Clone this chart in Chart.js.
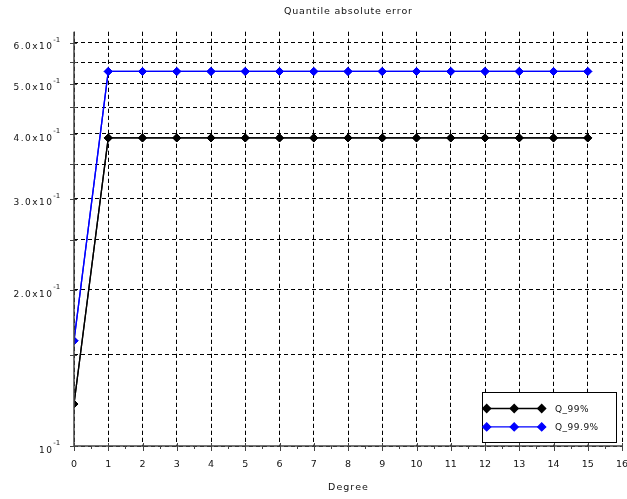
<!DOCTYPE html>
<html>
<head>
<meta charset="utf-8">
<script src="https://cdn.jsdelivr.net/npm/chart.js@4.4.1/dist/chart.umd.min.js"></script>
<style>
  html, body { margin: 0; padding: 0; background: #fff; }
  #wrap { width: 627px; height: 499px; }
</style>
</head>
<body>
<div id="wrap"><canvas id="chart" width="627" height="499"></canvas></div>
<script>
// data
const degrees = [0, 1, 2, 3, 4, 5, 6, 7, 8, 9, 10, 11, 12, 13, 14, 15];
const q99 = [0.1205, 0.393, 0.393, 0.393, 0.393, 0.393, 0.393, 0.393,
             0.393, 0.393, 0.393, 0.393, 0.393, 0.393, 0.393, 0.393];
const q999 = [0.1596, 0.528, 0.528, 0.528, 0.528, 0.528, 0.528, 0.528,
              0.528, 0.528, 0.528, 0.528, 0.528, 0.528, 0.528, 0.528];
const seriesNames = ['Q_99%', 'Q_99.9%'];
const seriesColors = ['#000000', '#0000ff'];

// y axis (log) ticks: majors get a label, minors only grid + tick mark
const yTicks = [0.1, 0.15, 0.2, 0.25, 0.3, 0.35, 0.4, 0.45, 0.5, 0.55, 0.6];
const yMajor = [0.1, 0.2, 0.3, 0.4, 0.5, 0.6];
const yMajorMantissa = ['10', '2.0x10', '3.0x10', '4.0x10', '5.0x10', '6.0x10'];
const yExponent = '-1';

const FONT = 'DejaVu Sans';
const AXIS_COLOR = '#444';

function toPoints(ys) {
    return degrees.map(function(d, i) { return { x: d, y: ys[i] }; });
}

// draw text char by char with extra spacing (Scilab's loose glyph spacing)
function spacedText(ctx, str, x, y, spacing, align) {
    const chars = str.split('');
    const widths = chars.map(function(c) { return ctx.measureText(c).width; });
    const total = widths.reduce(function(s, w) { return s + w; }, 0) + spacing * (chars.length - 1);
    let cx = x;
    if (align === 'center') cx = x - total / 2;
    else if (align === 'right') cx = x - total;
    ctx.textAlign = 'left';
    chars.forEach(function(c, i) {
        ctx.fillText(c, cx, y);
        cx += widths[i] + spacing;
    });
}

const scilabPlugin = {
    id: 'scilab',
    afterDraw: function(chart) {
        const ctx = chart.ctx;
        const a = chart.chartArea;
        const xs = chart.scales.x;
        const ys = chart.scales.y;
        const midX = (a.left + a.right) / 2;

        // vertical dashed grid as small filled dashes (4 on, 3 off)
        ctx.save();
        ctx.fillStyle = '#000';
        xs.ticks.forEach(function(t) {
            const px = Math.round(xs.getPixelForValue(t.value) - 0.5);
            for (let y = a.top; y < a.bottom; y += 7) {
                ctx.fillRect(px, Math.round(y), 1, Math.min(4, a.bottom - y));
            }
        });
        ctx.restore();

        // datasets back on top of the grid
        Chart.helpers.clipArea(ctx, a);
        chart.getSortedVisibleDatasetMetas().forEach(function(m) {
            m.controller.draw();
        });
        Chart.helpers.unclipArea(ctx);

        // axes with crossing ticks
        ctx.save();
        ctx.strokeStyle = AXIS_COLOR;
        ctx.lineWidth = 1.5;
        ctx.beginPath();
        ctx.moveTo(a.left, a.top);
        ctx.lineTo(a.left, a.bottom);
        ctx.lineTo(a.right, a.bottom);
        ctx.stroke();
        ctx.lineWidth = 1;
        ctx.beginPath();
        ys.ticks.forEach(function(t) {
            const py = Math.round(ys.getPixelForValue(t.value)) + 0.5;
            ctx.moveTo(a.left - 4, py);
            ctx.lineTo(a.left + 3, py);
        });
        for (let v = xs.min; v <= xs.max; v += 0.5) {
            const px = Math.round(xs.getPixelForValue(v)) + 0.5;
            const major = Number.isInteger(v);
            ctx.moveTo(px, major ? a.bottom - 3 : a.bottom);
            ctx.lineTo(px, a.bottom + (major ? 5 : 3));
        }
        ctx.stroke();
        ctx.restore();

        ctx.save();
        ctx.fillStyle = '#111';
        ctx.textBaseline = 'alphabetic';

        // title and x axis title
        ctx.font = '9.5px "' + FONT + '"';
        spacedText(ctx, 'Quantile absolute error', midX, 14.3, 0.8, 'center');
        spacedText(ctx, 'Degree', midX, 490.2, 1, 'center');

        // y tick labels  m x10^-1
        yMajor.forEach(function(v, i) {
            const py = ys.getPixelForValue(v);
            ctx.font = '9px "' + FONT + '"';
            spacedText(ctx, yMajorMantissa[i], a.left - 22, py + 6.7, 1.5, 'right');
            ctx.font = '7px "' + FONT + '"';
            spacedText(ctx, yExponent, a.left - 20.7, py - 0.6, 0, 'left');
        });

        // legend
        const bx = 482.5, by = 392.5, bw = 134, bh = 50;
        ctx.fillStyle = '#fff';
        ctx.fillRect(bx, by, bw, bh);
        ctx.strokeStyle = '#000';
        ctx.lineWidth = 1;
        ctx.strokeRect(bx, by, bw, bh);
        chart.data.datasets.forEach(function(ds, i) {
            const ly = by + 16 + i * 18.4;
            const x0 = bx + 4.2, x1 = bx + 59.2;
            ctx.strokeStyle = ds.borderColor;
            ctx.fillStyle = ds.pointBackgroundColor;
            ctx.lineWidth = ds.borderWidth;
            ctx.beginPath();
            ctx.moveTo(x0, ly);
            ctx.lineTo(x1, ly);
            ctx.stroke();
            [x0, (x0 + x1) / 2, x1].forEach(function(mx) {
                Chart.helpers.drawPoint(ctx, {
                    pointStyle: 'rectRot', radius: ds.pointRadius,
                    borderWidth: 1, rotation: 0
                }, mx, ly);
            });
            ctx.fillStyle = '#111';
            ctx.font = '9px "' + FONT + '"';
            spacedText(ctx, ds.label, bx + 72.5, ly + 3.3, 0.5, 'left');
        });
        ctx.restore();
    }
};

function makeDataset(i, ys) {
    return {
        label: seriesNames[i],
        data: toPoints(ys),
        borderColor: seriesColors[i],
        backgroundColor: seriesColors[i],
        pointBackgroundColor: seriesColors[i],
        pointBorderColor: seriesColors[i],
        pointStyle: 'rectRot',
        pointRadius: 4,
        pointBorderWidth: 1,
        borderWidth: 1.3,
        clip: 0,
    };
}

new Chart(document.getElementById('chart'), {
    type: 'line',
    data: {
        datasets: [makeDataset(0, q99), makeDataset(1, q999)]
    },
    options: {
        responsive: false,
        animation: false,
        layout: { padding: { left: 0, right: 4, top: 31.7, bottom: 0 } },
        plugins: { legend: { display: false } },
        scales: {
            x: {
                type: 'linear',
                min: 0,
                max: 16,
                ticks: {
                    stepSize: 1,
                    padding: 13,
                    color: '#111',
                    font: { family: FONT, size: 9.5 }
                },
                grid: { color: '#000', drawTicks: false },
                border: { display: false, dash: [4, 3] },
                afterFit: function(s) {
                    s.height = 53;
                    s.paddingLeft = 0;
                    s.paddingRight = 0;
                }
            },
            y: {
                type: 'logarithmic',
                min: 0.1,
                max: 0.63,
                afterBuildTicks: function(s) {
                    s.ticks = yTicks.map(function(v) { return { value: v }; });
                },
                ticks: { display: false },
                grid: { color: '#000', drawTicks: false },
                border: { display: false, dash: [4, 3] },
                afterFit: function(s) {
                    s.width = 74;
                }
            }
        }
    },
    plugins: [scilabPlugin]
});
</script>
</body>
</html>
